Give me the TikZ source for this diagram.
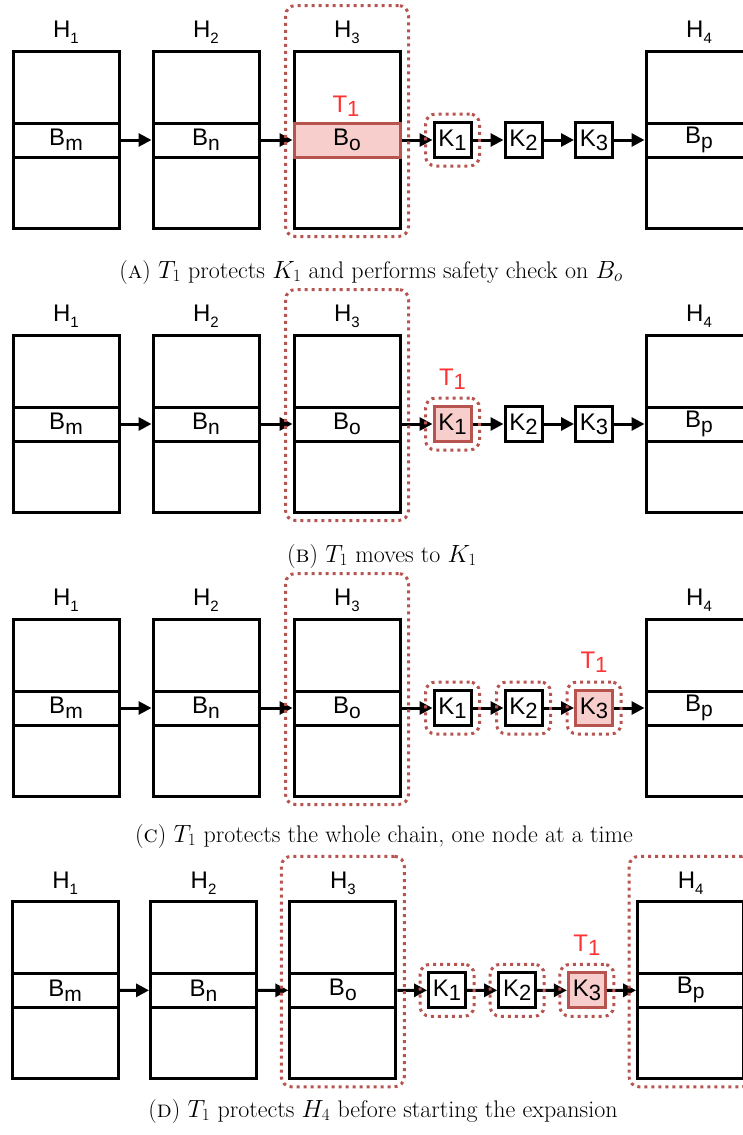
\documentclass[tikz,border=0pt]{standalone}
\usepackage{fontspec}
\newfontfamily\arialf{Liberation Sans}
\usetikzlibrary{arrows.meta,fit,calc}
\definecolor{hlfill}{HTML}{F8CECC}
\definecolor{hldraw}{HTML}{B85450}
\definecolor{tred}{HTML}{FF3333}
\newcommand\sbs[3][17]{\raisebox{-#2pt}{\fontsize{#1}{#1}\selectfont #3}}
\tikzset{
  hlab/.style={font=\arialf\fontsize{24}{24}\selectfont, inner sep=0pt, anchor=base},
  hbox/.style={draw, line width=3pt, minimum width=106pt, minimum height=177pt, inner sep=0pt},
  bandbox/.style={draw, fill=white, line width=3pt, minimum width=106pt, minimum height=34pt, inner sep=0pt, font=\arialf\fontsize{24}{24}\selectfont},
  kbox/.style={draw, fill=white, line width=3pt, minimum width=37pt, minimum height=35pt, inner sep=0pt, font=\arialf\fontsize{24}{24}\selectfont},
  hlbox/.style={fill=hlfill, draw=hldraw},
  nohl/.style={},
  dotbox/.style={draw=hldraw, line width=3pt, dash pattern=on 3pt off 4pt, rounded corners=10pt, inner sep=7pt},
  conn/.style={line width=3pt, -{Triangle[length=13pt,width=13pt]}},
  tlab/.style={text=tred, font=\arialf\fontsize{24}{24}\selectfont, inner sep=0pt, anchor=base},
  captext/.style={anchor=base, inner sep=0pt, font=\fontsize{24}{24}\selectfont}
}
% #1 prefix, #2 style of B_o, #3 style of K1, #4 style of K3
\newcommand\basepanel[4]{%
  \node[hbox] (#1H1) at (66,139.5) {};
  \node[hbox] (#1H2) at (206,139.5) {};
  \node[hbox] (#1H3) at (347,139.5) {};
  \node[hbox] (#1H4) at (699,139.5) {};
  \node[bandbox] (#1Bm) at (66,140) {B\sbs[21]{5}{m}};
  \node[bandbox] (#1Bn) at (206,140) {B\sbs[21]{5}{n}};
  \node[bandbox,#2] (#1Bo) at (347,140) {B\sbs[21]{5}{o}};
  \node[bandbox] (#1Bp) at (699,140) {B\sbs[21]{5}{p}};
  \node[hlab] (#1L1) at (66,37) {H\sbs[15]{6}{1}};
  \node[hlab] (#1L2) at (206,37) {H\sbs[15]{6}{2}};
  \node[hlab] (#1L3) at (347,37) {H\sbs[15]{6}{3}};
  \node[hlab] (#1L4) at (699,37) {H\sbs[15]{6}{4}};
  \node[kbox,#3] (#1K1) at (452.5,140) {K\sbs[22]{4}{1}};
  \node[kbox] (#1K2) at (523.5,140) {K\sbs[22]{4}{2}};
  \node[kbox,#4] (#1K3) at (594,140) {K\sbs[22]{4}{3}};
  \draw[conn] (#1Bm) -- (#1Bn);
  \draw[conn] (#1Bn) -- (#1Bo);
  \draw[conn] (#1Bo) -- (#1K1);
  \draw[conn] (#1K1) -- (#1K2);
  \draw[conn] (#1K2) -- (#1K3);
  \draw[conn] (#1K3) -- (#1Bp);
  \coordinate (#1H3top) at ($(#1H3.north)+(0,-37)$);
  \node[dotbox, fit=(#1H3)(#1H3top)] (#1D3) {};
}
\begin{document}
\begin{tikzpicture}[x=1pt,y=-1pt]
\useasboundingbox (0,0) rectangle (743,1135);
\clip (0,0) rectangle (743,1135);
% (A)
\begin{scope}
  \basepanel{a}{hlbox}{nohl}{nohl}
  \node[dotbox, fit=(aK1)] (aDK1) {};
  \node[tlab] (aT) at (346,112) {T\sbs[22]{4}{1}};
\end{scope}
\node[captext] (capA) at (371,278) {(\textsc{a}) $T_1$ protects $K_1$ and performs safety check on $B_o$};
% (B)
\begin{scope}[shift={(0,284)}]
  \basepanel{b}{nohl}{hlbox}{nohl}
  \node[dotbox, fit=(bK1)] (bDK1) {};
  \node[tlab] (bT) at (452.5,101) {T\sbs[22]{4}{1}};
\end{scope}
\node[captext] (capB) at (382,562) {(\textsc{b}) $T_1$ moves to $K_1$};
% (C)
\begin{scope}[shift={(0,568)}]
  \basepanel{c}{nohl}{nohl}{hlbox}
  \node[dotbox, fit=(cK1)] (cDK1) {};
  \node[dotbox, fit=(cK2)] (cDK2) {};
  \node[dotbox, fit=(cK3)] (cDK3) {};
  \node[tlab] (cT) at (594,100) {T\sbs[22]{4}{1}};
\end{scope}
\node[captext] (capC) at (384,842) {(\textsc{c}) $T_1$ protects the whole chain, one node at a time};
% (D)
\begin{scope}[shift={(0,852)}, scale=0.988]
  \basepanel{d}{nohl}{nohl}{hlbox}
  \node[dotbox, fit=(dK1)] (dDK1) {};
  \node[dotbox, fit=(dK2)] (dDK2) {};
  \node[dotbox, fit=(dK3)] (dDK3) {};
  \coordinate (dH4top) at ($(dH4.north)+(0,-37)$);
  \node[dotbox, fit=(dH4)(dH4top)] (dD4) {};
  \node[tlab] (dT) at (594,101) {T\sbs[22]{4}{1}};
\end{scope}
\node[captext] (capD) at (383,1117) {(\textsc{d}) $T_1$ protects $H_4$ before starting the expansion};
\end{tikzpicture}
\end{document}
